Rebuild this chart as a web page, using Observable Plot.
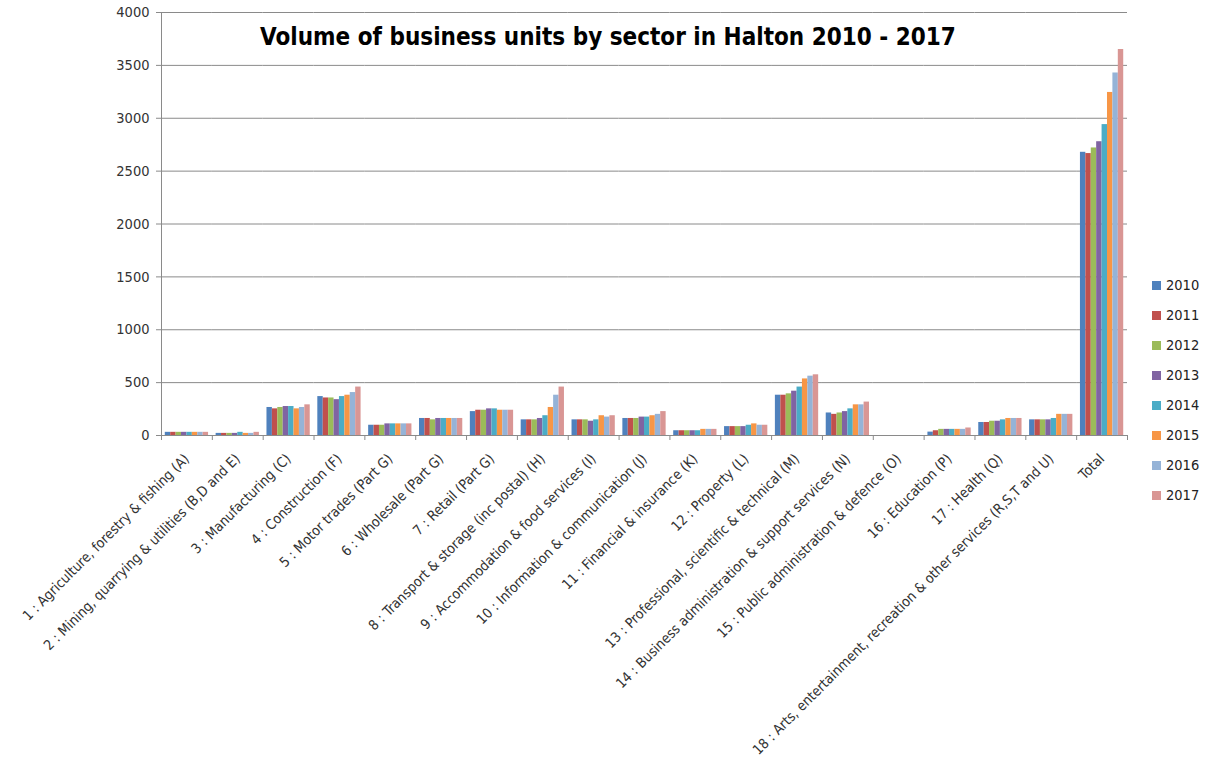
<!DOCTYPE html>
<html>
<head>
<meta charset="utf-8">
<script src="https://cdn.jsdelivr.net/npm/d3@7"></script>
<script src="https://cdn.jsdelivr.net/npm/@observablehq/plot@0.6"></script>
<style>
  html, body { margin: 0; padding: 0; background: #fff; }
  #wrap { position: relative; width: 1214px; height: 774px; }
  #title { position: absolute; left: 208px; top: 23px; width: 800px; text-align: center;
    font-family: "DejaVu Sans Condensed", sans-serif; font-weight: bold;
    font-size: 24px; color: #000; white-space: nowrap; }
  #legend { position: absolute; left: 1152px; top: 270px; font-family: "DejaVu Sans Condensed", sans-serif;
    font-size: 14.5px; color: #222; }
  #legend .item { height: 30px; display: flex; align-items: center; }
  #legend .sw { width: 9px; height: 9px; margin-right: 5px; }
</style>
</head>
<body>
<div id="wrap"></div>
<script>
const sectors = [
  "1 : Agriculture, forestry & fishing (A)",
  "2 : Mining, quarrying & utilities (B,D and E)",
  "3 : Manufacturing (C)",
  "4 : Construction (F)",
  "5 : Motor trades (Part G)",
  "6 : Wholesale (Part G)",
  "7 : Retail (Part G)",
  "8 : Transport & storage (inc postal) (H)",
  "9 : Accommodation & food services (I)",
  "10 : Information & communication (J)",
  "11 : Financial & insurance (K)",
  "12 : Property (L)",
  "13 : Professional, scientific & technical (M)",
  "14 : Business administration & support services (N)",
  "15 : Public administration & defence (O)",
  "16 : Education (P)",
  "17 : Health (Q)",
  "18 : Arts, entertainment, recreation & other services (R,S,T and U)",
  "Total"
];
const years = ["2010", "2011", "2012", "2013", "2014", "2015", "2016", "2017"];
const v2010 = [30, 20, 265, 368, 97, 161, 226, 148, 148, 161, 45, 84, 381, 213, 0, 32, 123, 148, 2678];
const v2011 = [30, 20, 252, 355, 97, 161, 239, 148, 148, 161, 45, 84, 381, 200, 0, 45, 123, 148, 2666];
const v2012 = [30, 20, 265, 355, 97, 148, 239, 148, 148, 161, 45, 84, 394, 213, 0, 58, 135, 148, 2719];
const v2013 = [30, 20, 274, 339, 110, 161, 252, 161, 135, 174, 45, 84, 419, 226, 0, 58, 135, 148, 2778];
const v2014 = [30, 30, 274, 368, 110, 161, 252, 187, 148, 174, 45, 97, 458, 252, 0, 58, 148, 161, 2940];
const v2015 = [30, 20, 252, 381, 110, 161, 239, 265, 187, 187, 58, 110, 535, 290, 0, 58, 161, 200, 3244];
const v2016 = [30, 20, 265, 406, 110, 161, 239, 381, 174, 200, 58, 97, 561, 290, 0, 58, 161, 200, 3428];
const v2017 = [30, 30, 290, 458, 110, 161, 239, 458, 187, 226, 58, 97, 574, 316, 0, 71, 161, 200, 3650];
const yTicks = [0, 500, 1000, 1500, 2000, 2500, 3000, 3500, 4000];
const colors = ["#4F81BD", "#C0504D", "#9BBB59", "#8064A2", "#4BACC6", "#F79646", "#95B3D7", "#D99694"];
const title = "Volume of business units by sector in Halton 2010 - 2017";

const series = [v2010, v2011, v2012, v2013, v2014, v2015, v2016, v2017];
const rows = sectors.flatMap((s, i) => years.map((y, j) => ({sector: s, year: y, value: series[j][i]})));

const W = 1214, H = 774, ML = 161, MR = 87, MT = 12, MB = 339;
const PO = 0.7;
const half = (W - ML - MR) / sectors.length / 2;
const step = (2 * half) / (years.length + 2 * PO);
const axisColor = "#8a8a8a";

const plot = Plot.plot({
  width: W, height: H,
  marginLeft: ML, marginRight: MR, marginTop: MT, marginBottom: MB,
  style: {fontFamily: "'DejaVu Sans Condensed', sans-serif", fontSize: "14px", color: "#333", background: "#fff", overflow: "visible"},
  fx: {domain: sectors, paddingInner: 0, paddingOuter: 0, round: false, label: null},
  x: {domain: years, paddingInner: 0, paddingOuter: PO, round: false, axis: null},
  y: {domain: [0, 4000], label: null},
  color: {domain: years, range: colors},
  marks: [
    Plot.gridY({ticks: yTicks, stroke: axisColor, strokeOpacity: 1}),
    Plot.barY(rows, {fx: "sector", x: "year", y: "value", fill: "year"}),
    Plot.ruleY([0], {stroke: axisColor}),
    Plot.ruleX([years[0]], {x: (d) => d, y1: 0, y2: 4000, facetAnchor: "left", dx: -(PO + 0.5) * step, stroke: axisColor}),
    Plot.axisY({ticks: yTicks, tickFormat: (d) => String(d), tickSize: 5, tickPadding: 7, stroke: axisColor, fill: "#333", label: null, fontSize: 14.5}),
    Plot.axisFx({anchor: "bottom", tickSize: 0, tickRotate: -45, tickPadding: 21, label: null, fill: "#333"}),
    Plot.axisFx({anchor: "bottom", tickSize: 5, tickFormat: () => "", dx: -half, stroke: axisColor, label: null}),
    Plot.axisFx({anchor: "bottom", ticks: ["Total"], tickSize: 5, tickFormat: () => "", dx: half, stroke: axisColor, label: null})
  ]
});

const wrap = document.getElementById("wrap");
wrap.appendChild(plot);

const t = document.createElement("div");
t.id = "title";
t.textContent = title;
wrap.appendChild(t);

const color = plot.scale("color");
const leg = document.createElement("div");
leg.id = "legend";
color.domain.forEach((y, i) => {
  const it = document.createElement("div");
  it.className = "item";
  const sw = document.createElement("span");
  sw.className = "sw";
  sw.style.background = color.range[i];
  const lb = document.createElement("span");
  lb.textContent = y;
  it.appendChild(sw);
  it.appendChild(lb);
  leg.appendChild(it);
});
wrap.appendChild(leg);
</script>
</body>
</html>
